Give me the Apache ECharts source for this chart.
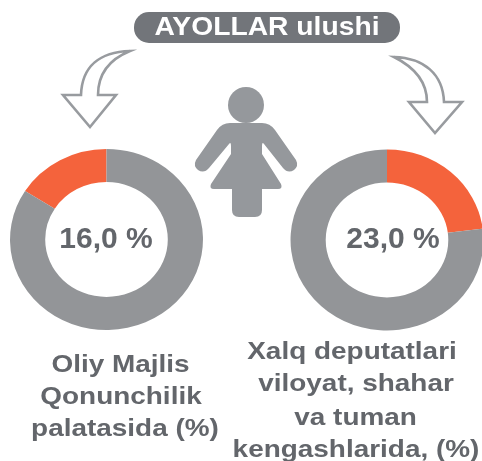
<!DOCTYPE html>
<html><head><meta charset="utf-8">
<style>html,body{margin:0;padding:0;background:#fff}#c{width:482px;height:461px}</style>
<script src="https://cdn.jsdelivr.net/npm/echarts@6/dist/echarts.min.js"></script>
</head><body><div id="c"></div>
<script>
var heading = 'AYOLLAR ulushi';
var leftShare = 16.0, rightShare = 23.0, total = 100;
var leftValueLabel = '16,0 %', rightValueLabel = '23,0 %';
var leftCaption = ['Oliy Majlis', 'Qonunchilik', 'palatasida (%)'];
var rightCaption = ['Xalq deputatlari', 'viloyat, shahar', 'va tuman', 'kengashlarida, (%)'];
var leftCaptionX = [120.5, 121, 125], leftCaptionY = [365, 397, 429];
var rightCaptionX = [352, 356, 355.6, 356], rightCaptionY = [352, 384, 418, 450];
var GREY = '#939598', ORANGE = '#f4633c', TEXT = '#63666b', FONT = '"Liberation Sans", Arial, sans-serif';
var PIE_STRETCH = 1.066, PIE_CENTERS = [[106.5, 239.5], [387, 240]];

var G = echarts.graphic;
G.registerShape('arrowLeft', G.extendPath('M130 51 C100 52 82 66 81 95 L63 95 L90 127 L116 95 L98 95 C98 76 108 60 130 51 Z', {}));
G.registerShape('arrowRight', G.extendPath('M394 57 C424 58 443 74 444 102 L462 102 L435 133 L409 102 L427 102 C427 84 416 68 394 57 Z', {}));
G.registerShape('personBody', G.extendPath('M230 123 L262 123 Q270 123 275 130 L296 160 Q299 166 294 170 Q288 174 283 168 L264 144 Q262 141 262 146 L262 154 L281 184 Q283 189 278 189 L262 189 L262 210 Q262 217 255 217 L239 217 Q232 217 232 210 L232 189 L214 189 Q209 189 211 184 L231 154 L231 146 Q231 141 229 144 L209 168 Q204 174 198 170 Q193 166 196 160 L217 130 Q222 123 230 123 Z', {}));

function donut(center, share, clockwise, label, offset) {
  var rest = total - share;
  return {
    type: 'pie', center: center, radius: [57.5, 90.5], silent: true,
    clockwise: clockwise, startAngle: 90,
    label: {show: true, position: 'center', formatter: label, fontFamily: FONT,
      fontWeight: 'bold', fontSize: 30, color: TEXT, offset: offset},
    labelLine: {show: false}, emphasis: {disabled: true},
    data: [
      {value: share, itemStyle: {color: ORANGE}},
      {value: rest, itemStyle: {color: GREY}}
    ]
  };
}
function caption(lines, xs, ys) {
  return lines.map(function (t, i) {
    return {type: 'text', x: xs[i], y: ys[i], scaleX: 1.14, style: {text: t, x: 0, y: 0, align: 'center', verticalAlign: 'middle',
      font: 'bold 24.5px ' + FONT, fill: TEXT}};
  });
}
var arrowStyle = {fill: '#fff', stroke: '#989b9f', lineWidth: 2.6, lineJoin: 'miter'};
var personStyle = {fill: '#95989c'};
var graphics = [
  {type: 'rect', shape: {x: 134, y: 12, width: 266, height: 31, r: 15}, style: {fill: '#72757a'}},
  {type: 'text', x: 267, y: 28, scaleX: 1.13, style: {text: heading, x: 0, y: 0, align: 'center', verticalAlign: 'middle', font: 'bold 25px ' + FONT, fill: '#fff'}},
  {type: 'arrowLeft', style: arrowStyle},
  {type: 'arrowRight', style: arrowStyle},
  {type: 'circle', shape: {cx: 246, cy: 105, r: 18}, style: personStyle},
  {type: 'personBody', style: personStyle}
].concat(caption(leftCaption, leftCaptionX, leftCaptionY), caption(rightCaption, rightCaptionX, rightCaptionY));

var chart = echarts.init(document.getElementById('c'), null, {renderer: 'canvas'});
chart.setOption({
  animation: false,
  series: [
    donut(PIE_CENTERS[0], leftShare, false, leftValueLabel, [-0.5, 0.5]),
    donut(PIE_CENTERS[1], rightShare, true, rightValueLabel, [6, 0])
  ],
  graphic: {elements: graphics}
});
// The reference's donuts are slightly wider than tall: stretch each pie view about its own centre.
(chart._chartsViews || []).forEach(function (view, i) {
  view.group.originX = PIE_CENTERS[i][0];
  view.group.originY = PIE_CENTERS[i][1];
  view.group.scaleX = PIE_STRETCH;
  view.group.markRedraw();
});
chart.getZr().refresh();
</script></body></html>
